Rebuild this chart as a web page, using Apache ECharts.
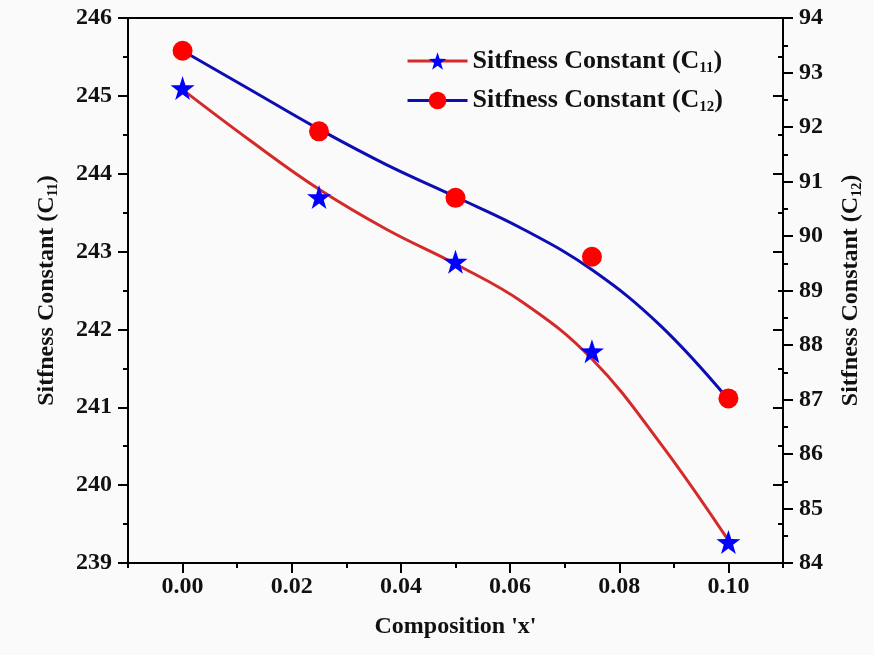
<!DOCTYPE html>
<html>
<head>
<meta charset="utf-8">
<script src="https://cdn.jsdelivr.net/npm/echarts@6/dist/echarts.min.js"></script>
<style>
  html,body{margin:0;padding:0;background:#fafafa;}
  #chart{width:874px;height:655px;}
</style>
</head>
<body>
<div id="chart"></div>
<script>
// composition x
var xPoints = [0, 0.025, 0.05, 0.075, 0.1];
// measured values
var c11 = [245.10, 243.70, 242.87, 241.72, 239.27];
var c12 = [93.40, 91.92, 90.70, 89.62, 87.02];
// fitted curves
var xFit = [0, 0.0125, 0.025, 0.0375, 0.05, 0.0625, 0.075, 0.0875, 0.1];
var c11Fit = [245.08, 244.42, 243.80, 243.28, 242.84, 242.34, 241.62, 240.54, 239.29];
var c12Fit = [93.40, 92.68, 91.96, 91.30, 90.72, 90.12, 89.38, 88.36, 87.00];
var xMajor = [0, 0.02, 0.04, 0.06, 0.08, 0.1];

var star = 'path://M50,0 L61.8,35.1 L98.9,35.5 L69.1,57.6 L80.2,93 L50,71.6 L19.8,93 L30.9,57.6 L1.1,35.5 L38.2,35.1 Z';
var font = '"Liberation Serif","Times New Roman",serif';

function pairs(xs, ys){
    return xs.map(function(x, i){ return [x, ys[i]]; });
}
function richText(size){
    return {
        main: {fontFamily: font, fontWeight: 'bold', fontSize: size, color: '#111'},
        sub: {fontFamily: font, fontWeight: 'bold', fontSize: Math.round(size * 0.58), color: '#111', padding: [Math.round(size * 0.55), 0, 0, 0]}
    };
}

var chart = echarts.init(document.getElementById('chart'));
var tickStyle = {color: '#000', width: 2};
var labelStyle = {fontFamily: font, fontWeight: 'bold', fontSize: 24, color: '#111'};
var box = {left: 128, right: 91, top: 18, bottom: 92};

var option = {
    backgroundColor: '#fafafa',
    animation: false,
    grid: [
        Object.assign({show: true, borderColor: '#000', borderWidth: 2, backgroundColor: 'transparent'}, box),
        // second grid on the same box, only for the mirrored left-scale ticks and long x ticks
        Object.assign({show: false}, box)
    ],
    legend: {
        data: ['C11', 'C12'],
        right: 146, top: 43,
        orient: 'vertical',
        itemWidth: 60, itemHeight: 22, itemGap: 12,
        lineStyle: {width: 3},
        formatter: function(name){
            return '{main|Sitfness Constant (C}{sub|' + name.slice(1) + '}{main|)}';
        },
        textStyle: {rich: richText(26)}
    },
    xAxis: [{
        type: 'value',
        min: -0.01, max: 0.11, interval: 0.01,
        name: "Composition 'x'",
        nameLocation: 'middle', nameGap: 52,
        nameTextStyle: labelStyle,
        axisLine: {show: true, onZero: false, lineStyle: tickStyle},
        axisTick: {show: true, length: 5, lineStyle: tickStyle},
        axisLabel: Object.assign({
            customValues: xMajor,
            formatter: function(v){ return v.toFixed(2); },
            margin: 12
        }, labelStyle),
        splitLine: {show: false}
    }, {
        // major x ticks, drawn longer
        gridIndex: 1,
        type: 'value',
        position: 'bottom',
        min: -0.01, max: 0.11,
        axisLine: {show: false, onZero: false},
        axisTick: {show: true, customValues: xMajor, length: 10, lineStyle: tickStyle},
        axisLabel: {show: false},
        splitLine: {show: false}
    }],
    yAxis: [{
        type: 'value',
        min: 239, max: 246, interval: 1,
        position: 'left',
        name: '{main|Sitfness Constant (C}{sub|11}{main|)}',
        nameLocation: 'middle', nameGap: 68, nameRotate: 90,
        nameTextStyle: {rich: richText(24)},
        axisLine: {show: true, onZero: false, lineStyle: tickStyle},
        axisTick: {show: true, length: 10, lineStyle: tickStyle},
        minorTick: {show: true, splitNumber: 2, length: 5, lineStyle: tickStyle},
        axisLabel: Object.assign({margin: 16}, labelStyle),
        splitLine: {show: false}
    }, {
        type: 'value',
        min: 84, max: 94, interval: 1,
        position: 'right',
        name: '{main|Sitfness Constant (C}{sub|12}{main|)}',
        nameLocation: 'middle', nameGap: 54, nameRotate: 90,
        nameTextStyle: {rich: richText(24)},
        axisLine: {show: true, onZero: false, lineStyle: tickStyle},
        axisTick: {show: true, length: 10, lineStyle: tickStyle},
        minorTick: {show: true, splitNumber: 2, length: 5, lineStyle: tickStyle},
        axisLabel: Object.assign({margin: 16}, labelStyle),
        splitLine: {show: false}
    }, {
        // mirror ticks of the left scale, drawn inward on the right side
        gridIndex: 1,
        type: 'value',
        min: 239, max: 246, interval: 1,
        position: 'right',
        axisLine: {show: true, onZero: false, lineStyle: tickStyle},
        axisTick: {show: true, inside: true, length: 10, lineStyle: tickStyle},
        minorTick: {show: true, splitNumber: 2, length: 5, lineStyle: tickStyle},
        axisLabel: {show: false},
        splitLine: {show: false}
    }],
    series: [{
        name: 'C11',
        type: 'line',
        yAxisIndex: 0,
        smooth: 0.4,
        showSymbol: false,
        symbol: star, symbolSize: 22,
        lineStyle: {color: '#d42a2a', width: 3},
        itemStyle: {color: '#0000ff'},
        data: pairs(xFit, c11Fit),
        z: 2
    }, {
        name: 'C12',
        type: 'line',
        yAxisIndex: 1,
        smooth: 0.4,
        showSymbol: false,
        symbol: 'circle', symbolSize: 20,
        lineStyle: {color: '#0d0db4', width: 3},
        itemStyle: {color: '#ff0000'},
        data: pairs(xFit, c12Fit),
        z: 2
    }, {
        name: 'C11 points',
        type: 'scatter',
        yAxisIndex: 0,
        symbol: star, symbolSize: 24,
        itemStyle: {color: '#0000ff', opacity: 1},
        data: pairs(xPoints, c11),
        z: 3
    }, {
        name: 'C12 points',
        type: 'scatter',
        yAxisIndex: 1,
        symbol: 'circle', symbolSize: 20,
        itemStyle: {color: '#ff0000', opacity: 1},
        data: pairs(xPoints, c12),
        z: 3
    }, {
        // empty series so the helper grid gets drawn
        name: 'helper',
        type: 'scatter',
        xAxisIndex: 1,
        yAxisIndex: 2,
        silent: true,
        data: []
    }]
};
chart.setOption(option, true);
</script>
</body>
</html>
